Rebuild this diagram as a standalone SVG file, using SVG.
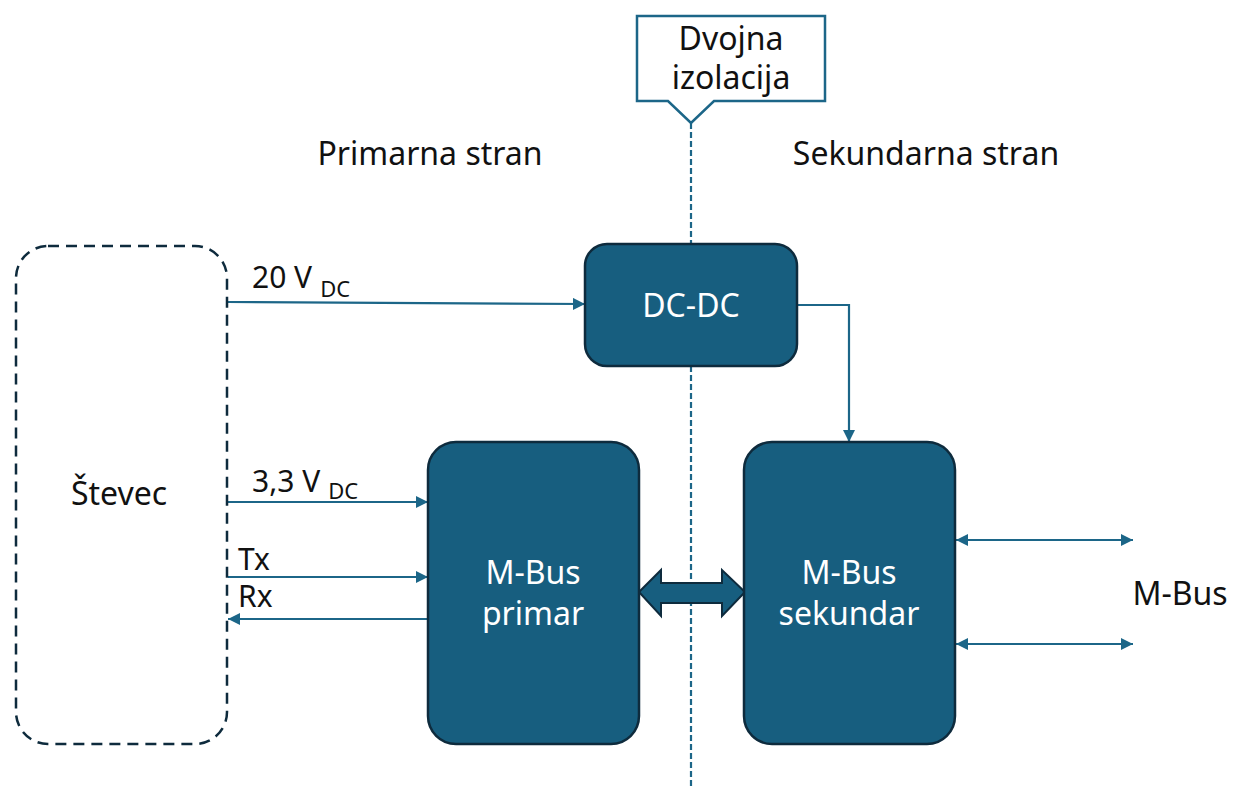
<svg xmlns="http://www.w3.org/2000/svg" width="1233" height="787" viewBox="0 0 1233 787">
<style>
.box{fill:#175e7f;stroke:#0e2b3d;stroke-width:2.5}
.wt{fill:#ffffff;font-family:"Noto Sans","Liberation Sans",Arial,sans-serif;font-size:32px;text-anchor:middle}
.bt{fill:#111111;font-family:"Noto Sans","Liberation Sans",Arial,sans-serif;font-size:32px}
.lb{fill:#111111;font-family:"Noto Sans","Liberation Sans",Arial,sans-serif;font-size:30px}
.sb{font-size:22px}
.ln{stroke:#1c6688;stroke-width:2.2;fill:none}
</style>
<defs>
<marker id="ah" viewBox="0 0 10 10" refX="10" refY="5" markerWidth="5.5" markerHeight="5.5" orient="auto-start-reverse" markerUnits="strokeWidth">
<path d="M0,0 L10,5 L0,10 z" fill="#1c6688"/>
</marker>
</defs>
<rect width="1233" height="787" fill="#ffffff"/>
<g id="isolation-line">
<line x1="691" y1="123" x2="691" y2="787" stroke="#1c6688" stroke-width="2.2" stroke-dasharray="6,3"/>
</g>
<g id="callout">
<path d="M637,16 H825 V101 H714 L691,123 L668,101 H637 Z" fill="#ffffff" stroke="#1c6688" stroke-width="2.5"/>
<text class="bt" x="731" y="50" text-anchor="middle">Dvojna</text>
<text class="bt" x="731" y="89" text-anchor="middle">izolacija</text>
</g>
<g id="side-labels">
<text class="bt" x="430" y="165" text-anchor="middle">Primarna stran</text>
<text class="bt" x="926" y="165" text-anchor="middle">Sekundarna stran</text>
</g>
<g id="connectors">
<line class="ln" x1="228" y1="302" x2="585" y2="304" marker-end="url(#ah)"/>
<polyline class="ln" points="797,305 849,305 849,442" marker-end="url(#ah)"/>
<line class="ln" x1="228" y1="502" x2="428" y2="502" marker-end="url(#ah)"/>
<line class="ln" x1="228" y1="577" x2="428" y2="577" marker-end="url(#ah)"/>
<line class="ln" x1="428" y1="619" x2="228" y2="619" marker-end="url(#ah)"/>
<line class="ln" x1="956" y1="540" x2="1133" y2="540" marker-start="url(#ah)" marker-end="url(#ah)"/>
<line class="ln" x1="956" y1="644" x2="1133" y2="644" marker-start="url(#ah)" marker-end="url(#ah)"/>
<path d="M639,592 L661,570 V583 H722 V570 L745,592 L722,616 V603 H661 V616 Z" fill="#175e7f" stroke="#0e2b3d" stroke-width="2"/>
<text class="lb" x="252" y="288">20 V<tspan class="sb" dx="8" dy="9">DC</tspan></text>
<text class="lb" x="252" y="492">3,3 V<tspan class="sb" dx="8" dy="7">DC</tspan></text>
<text class="lb" x="238" y="570">Tx</text>
<text class="lb" x="238" y="607">Rx</text>
</g>
<g id="stevec">
<rect x="16" y="246" width="211" height="498" rx="32" fill="none" stroke="#0e2b3d" stroke-width="2.5" stroke-dasharray="11,7"/>
<text class="bt" x="119" y="505" text-anchor="middle">Števec</text>
</g>
<g id="dcdc">
<rect class="box" x="585" y="244" width="212" height="122" rx="22"/>
<text class="wt" x="691" y="317">DC-DC</text>
</g>
<g id="mbus-primar">
<rect class="box" x="428" y="442" width="211" height="302" rx="28"/>
<text class="wt" x="533" y="584">M-Bus</text>
<text class="wt" x="533" y="625">primar</text>
</g>
<g id="mbus-sekundar">
<rect class="box" x="744" y="442" width="211" height="302" rx="28"/>
<text class="wt" x="849" y="584">M-Bus</text>
<text class="wt" x="849" y="625">sekundar</text>
</g>
<g id="mbus-label">
<text class="bt" x="1180" y="605" text-anchor="middle">M-Bus</text>
</g>
</svg>
